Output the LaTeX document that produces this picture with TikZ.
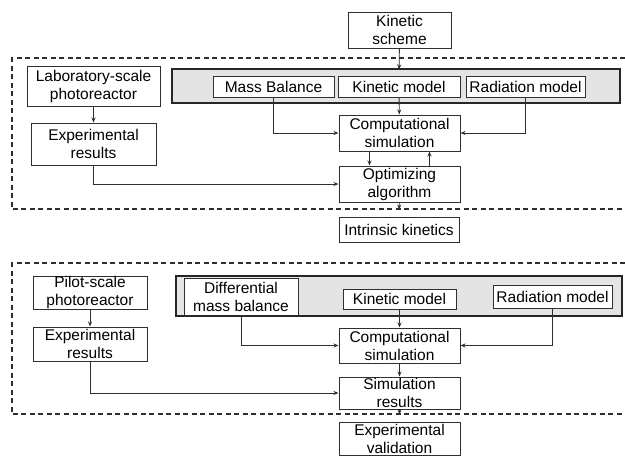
\documentclass[tikz,border=0pt]{standalone}
\usepackage{fontspec}
\setmainfont{Liberation Sans}
\usetikzlibrary{arrows.meta, positioning}
\definecolor{lineclr}{HTML}{2E2E2E}
\definecolor{frameclr}{HTML}{E4E4E4}

\begin{document}
\begin{tikzpicture}[x=1pt, y=-1pt,
    every node/.style={font=\fontsize{15.5}{18}\selectfont, text=black},
    blk/.style={rectangle, draw=lineclr, line width=1pt, fill=white,
                inner sep=0pt, align=center},
    frm/.style={rectangle, draw=black!85, line width=1.6pt, fill=frameclr, inner sep=0pt},
    grp/.style={draw=lineclr, line width=1.2pt, dash pattern=on 5pt off 3.5pt},
    arr/.style={-{Stealth[length=5pt, width=4pt]}, draw=lineclr, line width=0.9pt}
]
    \useasboundingbox (0,0) rectangle (625,456);

    % laboratory scale
    \draw[grp] (625,58) -- (12,58) -- (12,209) -- (625,209);
    \node[blk, minimum width=103pt, minimum height=36pt] (scheme) at (399.5,30) {Kinetic\\scheme};
    \node[blk, minimum width=133pt, minimum height=40pt] (lab) at (93.5,86) {Laboratory-scale\\photoreactor};
    \node[blk, minimum width=125pt, minimum height=42pt] (expA) at (93.5,144) {Experimental\\results};
    \node[frm, minimum width=448pt, minimum height=34pt] (frmA) at (396,86) {};
    \node[blk, minimum width=121pt, minimum height=21pt] (mbA) at (273.5,86.5) {Mass Balance};
    \node[blk, minimum width=122pt, minimum height=21pt] (kinA) at (399,86.5) {Kinetic model};
    \node[blk, minimum width=119pt, minimum height=21pt] (radA) at (525.5,86.5) {Radiation model};
    \node[blk, minimum width=121pt, minimum height=36pt] (compA) at (399.5,133) {Computational\\simulation};
    \node[blk, minimum width=121pt, minimum height=36pt] (optA) at (399.5,184) {Optimizing\\algorithm};
    \node[blk, minimum width=120pt, minimum height=25pt] (intr) at (399,229.5) {Intrinsic kinetics};

    \draw[arr, shorten >=6pt] (scheme) -- (kinA);
    \draw[arr] (lab) -- (expA);
    \draw[arr] (kinA) -- (compA);
    \draw[arr] (mbA.south) |- (compA.west);
    \draw[arr] (radA.south) |- (compA.east);
    \draw[arr] ([xshift=-30pt]compA.south) -- ([xshift=-30pt]optA.north);
    \draw[arr] ([xshift=30pt]optA.north) -- ([xshift=30pt]compA.south);
    \draw[arr] (expA.south) |- (optA.west);
    \draw[arr, shorten >=7pt] (optA) -- (intr);

    % pilot scale
    \draw[grp] (625,263) -- (12,263) -- (12,414) -- (625,414);
    \node[blk, minimum width=114pt, minimum height=33pt] (pilot) at (90,292.5) {Pilot-scale\\photoreactor};
    \node[blk, minimum width=114pt, minimum height=34pt] (expB) at (90,344) {Experimental\\results};
    \node[frm, minimum width=446pt, minimum height=40pt] (frmB) at (399,296) {};
    \node[blk, minimum width=114pt, minimum height=37pt] (dmb) at (241,296.5) {Differential\\mass balance};
    \node[blk, minimum width=113pt, minimum height=20pt] (kinB) at (399.5,299) {Kinetic model};
    \node[blk, minimum width=119pt, minimum height=23pt] (radB) at (552.5,296.5) {Radiation model};
    \node[blk, minimum width=121pt, minimum height=35pt] (compB) at (399.5,345.5) {Computational\\simulation};
    \node[blk, minimum width=121pt, minimum height=32pt] (simB) at (399.5,393) {Simulation\\results};
    \node[blk, minimum width=121pt, minimum height=33pt] (valid) at (399.5,438.5) {Experimental\\validation};

    \draw[arr] (pilot) -- (expB);
    \draw[arr] (kinB) -- (compB);
    \draw[arr] (dmb.south) |- (compB.west);
    \draw[arr] (radB.south) |- (compB.east);
    \draw[arr] (compB) -- (simB);
    \draw[arr] (expB.south) |- (simB.west);
    \draw[arr, shorten >=7pt] (simB) -- (valid);
\end{tikzpicture}
\end{document}
